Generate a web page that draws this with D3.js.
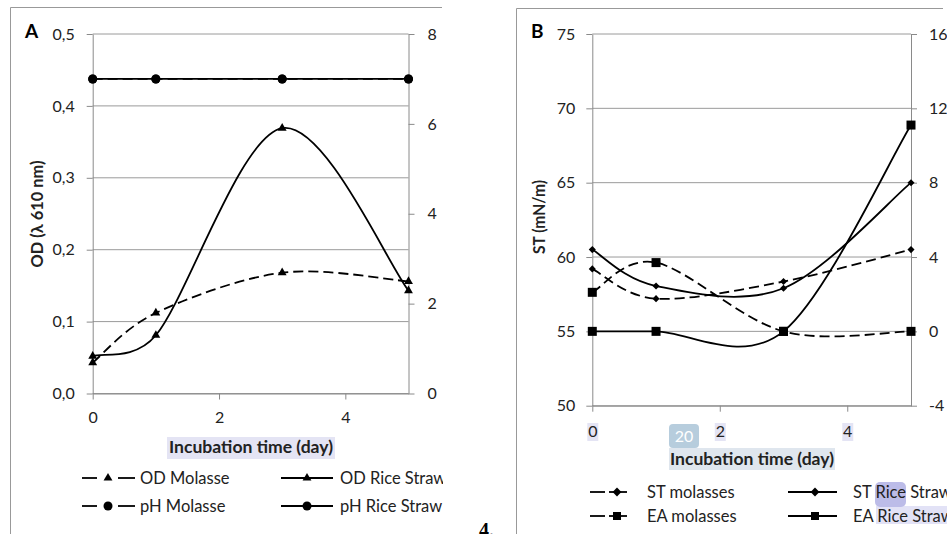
<!DOCTYPE html>
<html><head><meta charset="utf-8">
<script src="https://cdn.jsdelivr.net/npm/d3@7"></script>
<style>
body{margin:0;background:#fff;}
svg{display:block;font-family:Lato,"Open Sans",sans-serif;}
</style></head>
<body><svg id="c" width="947" height="534"></svg>
<script>
// ---------- DATA ----------
const days = [0, 1, 3, 5];
const odMolasse = [0.043, 0.112, 0.168, 0.156];
const odRiceStraw = [0.052, 0.081, 0.369, 0.143];
const phMolasse = [7, 7, 7, 7];
const phRiceStraw = [7, 7, 7, 7];
const stMolasses = [59.2, 57.2, 58.35, 60.5];
const stRiceStraw = [60.5, 58.05, 57.9, 65.0];
const eaMolasses = [2.1, 3.7, 0, 0];
const eaRiceStraw = [0, 0, 0, 11.1];
const xTicks = [0, 2, 4];
const aLeftTicks = [0, 0.1, 0.2, 0.3, 0.4, 0.5];
const aRightTicks = [0, 2, 4, 6, 8];
const bLeftTicks = [50, 55, 60, 65, 70, 75];
const bRightTicks = [-4, 0, 4, 8, 12, 16];

const svg = d3.select("#c");
const GRID = "#9a9a9a", AX = "#8a8a8a";
const comma = d => d3.format(".1f")(d).replace(".", ",");
const intFmt = d => String(d);

svg.append("defs").append("clipPath").attr("id","clipA")
  .append("rect").attr("x",0).attr("y",0).attr("width",443).attr("height",534);

// Excel-like smoothing: Catmull-Rom tangents, clamped relative to segment length
function smoothPath(pts){
  const n = pts.length, p = d3.path();
  const T = pts.map((q,i)=>{
    const a = pts[Math.max(0,i-1)], b = pts[Math.min(n-1,i+1)];
    return [(b[0]-a[0])/6, (b[1]-a[1])/6];
  });
  p.moveTo(pts[0][0], pts[0][1]);
  for(let i=0;i<n-1;i++){
    const a = pts[i], b = pts[i+1];
    const L = Math.hypot(b[0]-a[0], b[1]-a[1]);
    const la = Math.hypot(T[i][0],T[i][1]) || 1, lb = Math.hypot(T[i+1][0],T[i+1][1]) || 1;
    const sa = Math.min(1, 0.5*L/la), sb = Math.min(1, 0.5*L/lb);
    p.bezierCurveTo(a[0]+T[i][0]*sa, a[1]+T[i][1]*sa, b[0]-T[i+1][0]*sb, b[1]-T[i+1][1]*sb, b[0], b[1]);
  }
  return p.toString();
}

function panel(g, cfg){
  const {x, yL, yR, lt, rt, lfmt, rfmt, lp, rp, bp} = cfg;
  const [x0,x1] = x.range();
  g.append("g").selectAll("line").data(lt).join("line")
    .attr("x1",x0).attr("x2",x1).attr("y1",d=>yL(d)).attr("y2",d=>yL(d))
    .attr("stroke",GRID).attr("stroke-width",1);
  const ax = (sel)=>{sel.select(".domain").attr("stroke",AX);sel.selectAll(".tick line").attr("stroke",AX);
    sel.selectAll("text").attr("fill","#222").style("font-size","16px").style("font-family","Lato,'Open Sans',sans-serif");};
  g.append("g").attr("transform",`translate(${x0},0)`)
    .call(d3.axisLeft(yL).tickValues(lt).tickFormat(lfmt).tickSize(6).tickSizeOuter(0).tickPadding(lp)).call(ax);
  g.append("g").attr("transform",`translate(${x1},0)`)
    .call(d3.axisRight(yR).tickValues(rt).tickFormat(rfmt).tickSize(6).tickSizeOuter(0).tickPadding(rp)).call(ax);
  g.append("g").attr("transform",`translate(0,${yL.range()[0]})`)
    .call(d3.axisBottom(x).tickValues(xTicks).tickFormat(intFmt).tickSize(6).tickSizeOuter(0).tickPadding(bp)).call(ax);
}

function series(g, x, y, vals, dashed, sym, size){
  const pts = days.map((d,i)=>[x(d), y(vals[i])]);
  g.append("path").attr("d", smoothPath(pts))
    .attr("fill","none").attr("stroke","#000").attr("stroke-width",1.8)
    .attr("stroke-dasharray", dashed ? "10,5" : null);
  g.append("g").selectAll("path").data(pts).join("path")
    .attr("transform",d=>`translate(${d[0]},${d[1]})`)
    .attr("d", d3.symbol().type(sym).size(size)).attr("fill","#000");
}

function legendItem(g, o){
  const {x1,x2,xm,y,dashed,sym,size,label,tx,d1,d2} = o;
  if(dashed){
    g.append("line").attr("x1",x1).attr("x2",x1+d1).attr("y1",y).attr("y2",y).attr("stroke","#000").attr("stroke-width",1.8);
    g.append("line").attr("x1",xm-d2).attr("x2",x2).attr("y1",y).attr("y2",y).attr("stroke","#000").attr("stroke-width",1.8);
  } else {
    g.append("line").attr("x1",x1).attr("x2",x2).attr("y1",y).attr("y2",y).attr("stroke","#000").attr("stroke-width",1.8);
  }
  g.append("path").attr("transform",`translate(${xm},${y})`).attr("d",d3.symbol().type(sym).size(size)).attr("fill","#000");
  g.append("text").attr("x",tx).attr("y",y+6).text(label).style("font-size","16.5px").attr("fill","#222");
}

function boldText(g, x, y, rot, txt, len){
  g.append("text").attr("transform",`translate(${x},${y})${rot?" rotate(-90)":""}`).attr("text-anchor","middle")
    .attr("textLength",len).attr("lengthAdjust","spacingAndGlyphs")
    .text(txt).style("font-size","17px").style("font-weight","bold").attr("fill","#222");
}

// ---------- PANEL A ----------
const A = svg.append("g").attr("clip-path","url(#clipA)");
A.append("path").attr("d","M10.5,534 V7.5 H442").attr("fill","none").attr("stroke","#999");
const xA = d3.scaleLinear([0,5],[92.7,408.5]);
const yAL = d3.scaleLinear([0,0.5],[393.5,34]);
const yAR = d3.scaleLinear([0,8],[393.5,34]);
panel(A,{x:xA,yL:yAL,yR:yAR,lt:aLeftTicks,rt:aRightTicks,lfmt:comma,rfmt:intFmt,lp:12,rp:13,bp:12});
series(A,xA,yAR,phMolasse,true,d3.symbolCircle,64);
series(A,xA,yAR,phRiceStraw,false,d3.symbolCircle,64);
series(A,xA,yAL,odMolasse,true,d3.symbolTriangle,34);
series(A,xA,yAL,odRiceStraw,false,d3.symbolTriangle,34);
A.append("text").attr("x",25).attr("y",38).text("A").style("font-size","19px").style("font-weight","bold");
boldText(A, 43, 214, true, "OD (λ 610 nm)", 107);
A.append("rect").attr("x",167).attr("y",437).attr("width",168).attr("height",22).attr("fill","#e4e4f4");
boldText(A, 251, 453, false, "Incubation time (day)", 164);
legendItem(A,{x1:82,x2:135,xm:108,y:478,dashed:true,sym:d3.symbolTriangle,size:34,label:"OD Molasse",tx:140,d1:15,d2:-10});
legendItem(A,{x1:281,x2:333,xm:307,y:478,dashed:false,sym:d3.symbolTriangle,size:34,label:"OD Rice Straw",tx:340});
legendItem(A,{x1:82,x2:135,xm:108,y:506,dashed:true,sym:d3.symbolCircle,size:64,label:"pH Molasse",tx:140,d1:15,d2:-10});
legendItem(A,{x1:281,x2:333,xm:307,y:506,dashed:false,sym:d3.symbolCircle,size:64,label:"pH Rice Straw",tx:340});

// ---------- PANEL B ----------
const B = svg.append("g");
B.append("path").attr("d","M516.5,534 V8.5 H943").attr("fill","none").attr("stroke","#999");
const xB = d3.scaleLinear([0,5],[592.3,911]);
const yBL = d3.scaleLinear([50,75],[405.7,34]);
const yBR = d3.scaleLinear([-4,16],[405.7,34]);
B.append("g").selectAll("rect").data(xTicks).join("rect")
  .attr("x",d=>xB(d)-5).attr("y",423).attr("width",11).attr("height",18).attr("fill","#e4e4f4");
panel(B,{x:xB,yL:yBL,yR:yBR,lt:bLeftTicks,rt:bRightTicks,lfmt:intFmt,rfmt:intFmt,lp:11,rp:12,bp:14});
series(B,xB,yBL,stMolasses,true,d3.symbolDiamond2,32);
series(B,xB,yBL,stRiceStraw,false,d3.symbolDiamond2,32);
series(B,xB,yBR,eaMolasses,true,d3.symbolSquare,81);
series(B,xB,yBR,eaRiceStraw,false,d3.symbolSquare,81);
B.append("text").attr("x",531).attr("y",38).text("B").style("font-size","19px").style("font-weight","bold");
boldText(B, 545, 217, true, "ST (mN/m)", 74);
B.append("rect").attr("x",669).attr("y",448).attr("width",166).attr("height",22).attr("fill","#dfe6ee");
boldText(B, 752, 465, false, "Incubation time (day)", 164);
B.append("rect").attr("x",669).attr("y",424).attr("width",30).attr("height",24).attr("rx",4).attr("fill","#b7cddd");
B.append("text").attr("x",684).attr("y",442).attr("text-anchor","middle").text("20").style("font-size","16px").attr("fill","#fff");
B.append("rect").attr("x",876).attr("y",506).attr("width",71).attr("height",18).attr("fill","#e2e2f6");
B.append("rect").attr("x",875).attr("y",482).attr("width",31).attr("height",25).attr("rx",5).attr("fill","#bcbce8");
legendItem(B,{x1:590,x2:627,xm:617,y:492,dashed:true,sym:d3.symbolDiamond2,size:50,label:"ST molasses",tx:647,d1:15,d2:8});
legendItem(B,{x1:788,x2:837,xm:815,y:492,dashed:false,sym:d3.symbolDiamond2,size:50,label:"ST Rice Straw",tx:853});
legendItem(B,{x1:590,x2:627,xm:617,y:516,dashed:true,sym:d3.symbolSquare,size:64,label:"EA molasses",tx:647,d1:15,d2:8});
legendItem(B,{x1:788,x2:837,xm:815,y:516,dashed:false,sym:d3.symbolSquare,size:64,label:"EA Rice Straw",tx:853});
svg.append("text").attr("x",479).attr("y",537).text("4.").style("font-family","'Liberation Serif',serif")
  .style("font-size","20px").style("font-weight","bold");
</script></body></html>
